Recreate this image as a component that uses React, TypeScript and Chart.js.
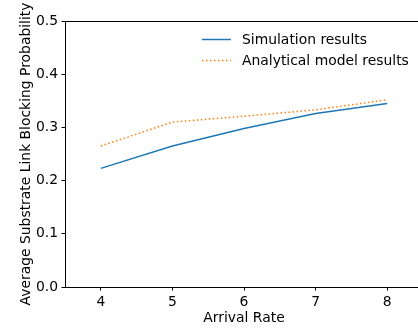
import React, { useEffect, useRef } from "react";
import { Chart, registerables } from "chart.js";

Chart.register(...registerables);

const arrivalRates = [4, 5, 6, 7, 8];
const simulation = [0.223, 0.265, 0.298, 0.326, 0.345];
const analytical = [0.265, 0.31, 0.321, 0.333, 0.352];
const yTicks = [0, 0.1, 0.2, 0.3, 0.4, 0.5];
const seriesLabels = ["Simulation results", "Analytical model results"];
const xTitle = "Arrival Rate";
const yTitle = "Average Substrate Link Blocking Probability";

const FONT = "'DejaVu Sans', sans-serif";
const FS = 13.9;

const insideLegend = {
  id: "insideLegend",
  afterDraw(chart: any) {
    const ctx = chart.ctx as CanvasRenderingContext2D;
    const { top, left, right } = chart.chartArea;
    ctx.save();
    // top spine
    ctx.strokeStyle = "#000";
    ctx.lineWidth = 1;
    ctx.setLineDash([]);
    ctx.beginPath();
    ctx.moveTo(left, Math.round(top) + 0.5);
    ctx.lineTo(right, Math.round(top) + 0.5);
    ctx.stroke();
    // legend
    ctx.font = `${FS}px ${FONT}`;
    ctx.textBaseline = "middle";
    ctx.textAlign = "left";
    chart.data.datasets.forEach((ds: any, i: number) => {
      const y = top + 18.5 + i * 21;
      const x0 = left + 137;
      ctx.strokeStyle = ds.borderColor;
      ctx.lineWidth = ds.borderWidth;
      ctx.setLineDash(ds.borderDash || []);
      ctx.beginPath();
      ctx.moveTo(x0, y);
      ctx.lineTo(x0 + 29, y);
      ctx.stroke();
      ctx.fillStyle = "#000";
      ctx.fillText(ds.label, x0 + 40, y + 1);
    });
    ctx.restore();
  },
};

export default function App() {
  const ref = useRef<HTMLCanvasElement | null>(null);
  useEffect(() => {
    if (!ref.current) return;
    Chart.defaults.font.family = FONT;
    Chart.defaults.font.size = FS;
    Chart.defaults.color = "#000";
    const chart = new Chart(ref.current, {
      type: "line",
      data: {
        datasets: [
          {
            label: seriesLabels[0],
            data: arrivalRates.map((x, i) => ({ x, y: simulation[i] })),
            borderColor: "#1f77b4",
            borderWidth: 1.5,
            pointRadius: 0,
            tension: 0,
            fill: false,
          },
          {
            label: seriesLabels[1],
            data: arrivalRates.map((x, i) => ({ x, y: analytical[i] })),
            borderColor: "#ff7f0e",
            borderWidth: 1.5,
            borderDash: [1.5, 2.5],
            pointRadius: 0,
            tension: 0,
            fill: false,
          },
        ],
      },
      options: {
        animation: false,
        responsive: false,
        devicePixelRatio: 1,
        layout: { padding: { top: 21, right: 7, bottom: 0, left: 0 } },
        plugins: { legend: { display: false }, tooltip: { enabled: false } },
        scales: {
          x: {
            type: "linear",
            min: 3.5,
            max: 8.5,
            afterBuildTicks: (s: any) => {
              s.ticks = arrivalRates.map((v) => ({ value: v }));
            },
            afterFit: (s: any) => {
              s.height = 42;
            },
            grid: {
              display: true,
              drawOnChartArea: false,
              drawTicks: true,
              tickLength: 3.5,
              color: "#000",
            },
            border: { display: true, color: "#000", width: 1 },
            ticks: {
              padding: 3.5,
              maxRotation: 0,
              color: "#000",
              callback: (v: any) => String(v),
            },
            title: {
              display: true,
              text: xTitle,
              color: "#000",
              padding: { top: 0, bottom: 2.6 },
            },
          },
          y: {
            type: "linear",
            min: 0,
            max: 0.5,
            afterBuildTicks: (s: any) => {
              s.ticks = yTicks.map((v) => ({ value: v }));
            },
            afterFit: (s: any) => {
              s.width = 65;
            },
            grid: {
              display: true,
              drawOnChartArea: false,
              drawTicks: true,
              tickLength: 3.5,
              color: "#000",
            },
            border: { display: true, color: "#000", width: 1 },
            ticks: {
              padding: 3.5,
              color: "#000",
              callback: (v: any) => Number(v).toFixed(1),
            },
            title: {
              display: true,
              text: yTitle,
              color: "#000",
              padding: { top: 17.6, bottom: 0 },
            },
          },
        },
      },
      plugins: [insideLegend],
    } as any);
    return () => chart.destroy();
  }, []);
  return (
    <div
      style={{
        position: "fixed",
        left: 0,
        top: 0,
        width: 418,
        height: 329,
        overflow: "hidden",
        background: "#fff",
      }}
    >
      <canvas ref={ref} width={430} height={329} style={{ width: 430, height: 329, display: "block" }} />
    </div>
  );
}
